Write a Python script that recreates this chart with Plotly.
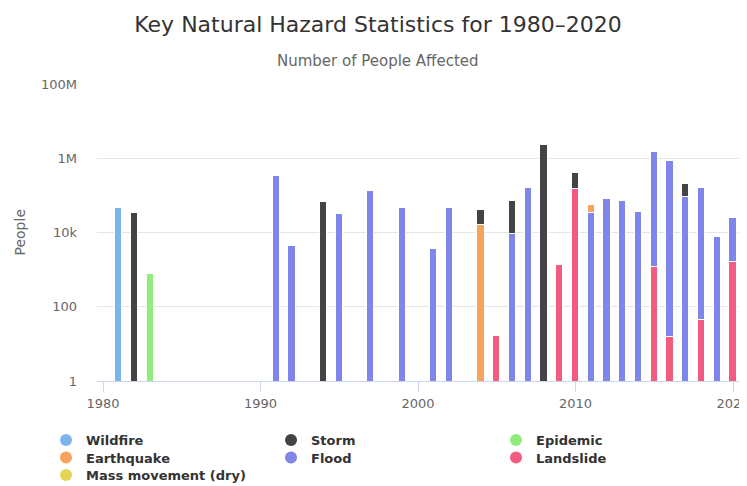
import plotly.graph_objects as go

# ---- data (segment values, people affected) ----
wildfire_years = [1981]
wildfire_vals = [47000]

storm_years = [1982, 1994, 2004, 2006, 2008, 2010, 2017]
storm_vals = [34000, 66000, 24000, 60000, 2300000, 265000, 110000]

epidemic_years = [1983]
epidemic_vals = [760]

earthquake_years = [2004, 2011]
earthquake_vals = [16000, 21000]

flood_years = [1991, 1992, 1995, 1997, 1999, 2001, 2002, 2006, 2007, 2011,
               2012, 2013, 2014, 2015, 2016, 2017, 2018, 2019, 2020]
flood_vals = [330000, 4300, 32000, 130000, 47000, 3700, 47000, 9400, 155000, 34000,
              81000, 70000, 36000, 1500000, 820000, 90000, 162000, 7500, 23400]

landslide_years = [2005, 2009, 2010, 2015, 2016, 2018, 2020]
landslide_vals = [16, 1300, 145000, 1150, 15, 45, 1600]

mass_years = []
mass_vals = []

y_tickvals = [1, 100, 1e4, 1e6, 1e8]
y_ticktext = ["1", "100", "10k", "1M", "100M"]
x_tickvals = [1980, 1990, 2000, 2010, 2020]

colors = {
    "Wildfire": "#7cb5ec",
    "Storm": "#434348",
    "Epidemic": "#90ed7d",
    "Earthquake": "#f7a35c",
    "Flood": "#8085e9",
    "Landslide": "#f15c80",
    "Mass movement (dry)": "#e4d354",
}

series = {
    "Wildfire": (wildfire_years, wildfire_vals),
    "Storm": (storm_years, storm_vals),
    "Epidemic": (epidemic_years, epidemic_vals),
    "Earthquake": (earthquake_years, earthquake_vals),
    "Flood": (flood_years, flood_vals),
    "Landslide": (landslide_years, landslide_vals),
    "Mass movement (dry)": (mass_years, mass_vals),
}

legend_rows = [
    ["Wildfire", "Storm", "Epidemic"],
    ["Earthquake", "Flood", "Landslide"],
    ["Mass movement (dry)"],
]
# stack order: bottom first
stack_order = ["Mass movement (dry)", "Landslide", "Flood", "Earthquake", "Epidemic", "Storm", "Wildfire"]

FONT = "DejaVu Sans, Verdana, sans-serif"

# page body adds an 8px margin; layout numbers below are screen pixels minus OFF
OFF = 8
W, H = 747, 486
L, T = 97 - OFF, 84 - OFF
PW, PH = W - OFF - L, 297
R, B = W - L - PW, H - T - PH
PX_PER_YEAR = 15.75
X0 = 1980 - (103 - 97) / PX_PER_YEAR
X1 = X0 + PW / PX_PER_YEAR

fig = go.Figure()
for name in stack_order:
    xs, ys = series[name]
    fig.add_trace(go.Bar(
        x=xs, y=ys, name=name, width=0.46,
        marker=dict(color=colors[name], line=dict(color="white", width=1)),
        showlegend=False,
    ))

legend_ids = ["legend", "legend2", "legend3"]
row_centers = [440, 457.5, 475]
for lid, row in zip(legend_ids, legend_rows):
    for name in row:
        fig.add_trace(go.Scatter(
            x=[None], y=[None], mode="markers", name=name, legend=lid,
            marker=dict(symbol="circle", size=13, color=colors[name]),
        ))

legend_common = dict(orientation="h", xref="paper", yref="paper",
                     x=(46 - OFF - L) / PW, xanchor="left", yanchor="top",
                     entrywidth=180, entrywidthmode="pixels", traceorder="normal",
                     font=dict(size=13, color="#333333", family=FONT, weight="bold"),
                     itemsizing="constant", tracegroupgap=0, bgcolor="rgba(0,0,0,0)")

layout_legends = {}
for lid, c in zip(legend_ids, row_centers):
    top = c - 15 - OFF
    layout_legends[lid] = dict(legend_common, y=-(top - T - PH) / PH)

fig.update_layout(
    width=W, height=H,
    barmode="stack", bargap=0,
    paper_bgcolor="white", plot_bgcolor="white",
    font=dict(family=FONT, color="#333333"),
    margin=dict(l=L, r=R, t=T, b=B, autoexpand=False),
    title=dict(text="Key Natural Hazard Statistics for 1980\u20132020",
               xref="container", yref="container",
               x=(378 - OFF) / W, xanchor="center", y=1 - (24 - OFF) / H, yanchor="middle",
               font=dict(size=22, color="#333333", family=FONT)),
    annotations=[
        dict(text="Number of People Affected", xref="paper", yref="paper",
             x=(378 - OFF - L) / PW, y=1.0, yshift=84 - 61, xanchor="center", yanchor="middle",
             showarrow=False, font=dict(size=15, color="#666666", family=FONT)),
        dict(text="People", xref="paper", yref="paper", x=(19 - OFF - L) / PW, y=0.5,
             xanchor="center", yanchor="middle", textangle=-90, showarrow=False,
             font=dict(size=14, color="#666666", family=FONT)),
    ],
    xaxis=dict(range=[X0, X1], tickvals=x_tickvals, showgrid=False,
               showline=True, linecolor="#ccd6eb", linewidth=1,
               ticks="outside", ticklen=10, tickcolor="#ccd6eb", automargin=False,
               ticklabeloverflow="allow",
               tickfont=dict(size=13, color="#666666", family=FONT), zeroline=False),
    yaxis=dict(type="log", range=[0, 8], tickvals=y_tickvals, ticktext=y_ticktext,
               gridcolor="#e6e6e6", showline=False, zeroline=False, automargin=False,
               tickfont=dict(size=13, color="#666666", family=FONT), ticklabelstandoff=19),
    **layout_legends,
)

fig.write_html("out.html")
